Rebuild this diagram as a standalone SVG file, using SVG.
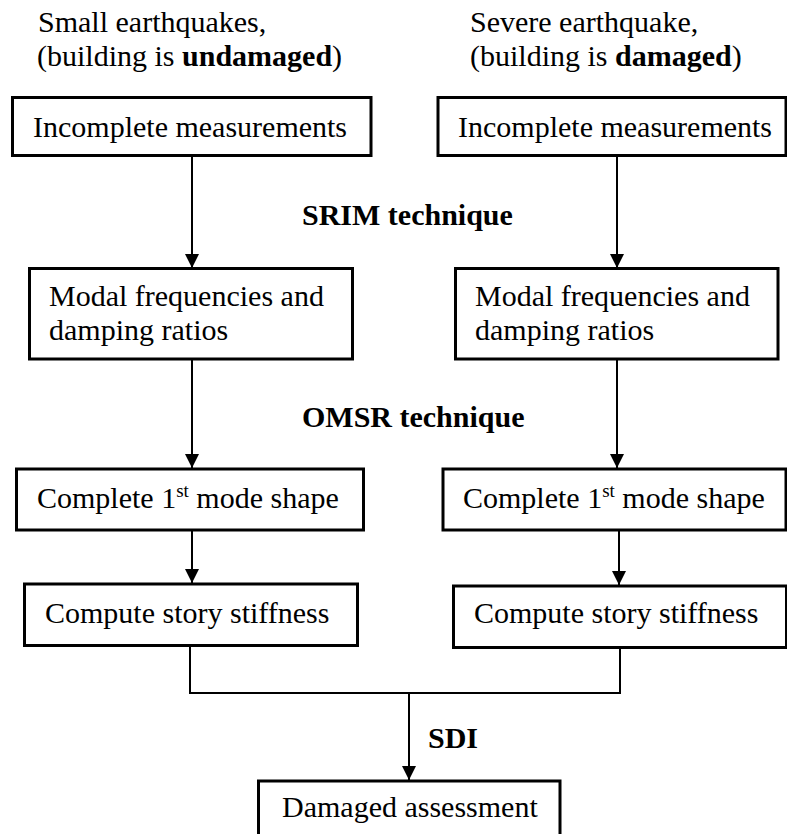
<svg xmlns="http://www.w3.org/2000/svg" width="787" height="834" viewBox="0 0 787 834">
<style>
.t text{font-size:30px;fill:#000}
.b{font-weight:bold}
.box{fill:#fff;stroke:#000;stroke-width:3}
.ln{fill:none;stroke:#000;stroke-width:2}
</style>
<defs>
<marker id="ah" markerUnits="userSpaceOnUse" markerWidth="14" markerHeight="14" refX="14" refY="7" orient="auto">
<path d="M0,0 L14,7 L0,14 z" fill="#000"/>
</marker>
</defs>
<rect width="787" height="834" fill="#fff"/>
<g class="t" font-family="'Liberation Serif', 'Times New Roman', 'DejaVu Serif', serif">
<g id="labels">
<text x="38" y="32">Small earthquakes,</text>
<text x="37" y="66">(building is <tspan class="b">undamaged</tspan>)</text>
<text x="470" y="32">Severe earthquake,</text>
<text x="470" y="66">(building is <tspan class="b">damaged</tspan>)</text>
<text class="b" x="302" y="225">SRIM technique</text>
<text class="b" x="302" y="427">OMSR technique</text>
<text class="b" x="428" y="748">SDI</text>
</g>
<g id="connectors">
<line class="ln" x1="192" y1="156" x2="192" y2="268" marker-end="url(#ah)"/>
<line class="ln" x1="617" y1="156" x2="617" y2="268" marker-end="url(#ah)"/>
<line class="ln" x1="192" y1="359" x2="192" y2="468" marker-end="url(#ah)"/>
<line class="ln" x1="617" y1="359" x2="617" y2="468" marker-end="url(#ah)"/>
<line class="ln" x1="192" y1="530" x2="192" y2="583" marker-end="url(#ah)"/>
<line class="ln" x1="619" y1="530" x2="619" y2="585" marker-end="url(#ah)"/>
<polyline class="ln" points="190,645 190,693 620,693 620,647"/>
<line class="ln" x1="409" y1="693" x2="409" y2="780" marker-end="url(#ah)"/>
</g>
<g id="n1"><rect class="box" x="12.5" y="97.5" width="358.5" height="58"/><text x="33" y="137">Incomplete measurements</text></g>
<g id="n2"><rect class="box" x="438" y="97.5" width="348" height="58"/><text x="458" y="137">Incomplete measurements</text></g>
<g id="n3"><rect class="box" x="29.5" y="268.5" width="323" height="90.5"/><text x="49" y="306">Modal frequencies and</text><text x="49" y="340">damping ratios</text></g>
<g id="n4"><rect class="box" x="455.5" y="268.5" width="322.5" height="90.5"/><text x="475" y="306">Modal frequencies and</text><text x="475" y="340">damping ratios</text></g>
<g id="n5"><rect class="box" x="16.5" y="469" width="347" height="61"/><text x="37" y="508">Complete 1<tspan font-size="19" dy="-11">st</tspan><tspan dy="11"> mode shape</tspan></text></g>
<g id="n6"><rect class="box" x="443" y="469" width="343" height="61"/><text x="463" y="508">Complete 1<tspan font-size="19" dy="-11">st</tspan><tspan dy="11"> mode shape</tspan></text></g>
<g id="n7"><rect class="box" x="24.5" y="584" width="333" height="61.5"/><text x="45" y="623">Compute story stiffness</text></g>
<g id="n8"><rect class="box" x="453.5" y="586" width="333" height="61.5"/><text x="474" y="623">Compute story stiffness</text></g>
<g id="n9"><rect class="box" x="258.5" y="781" width="301.5" height="70"/><text x="282" y="817">Damaged assessment</text></g>
</g>
</svg>
